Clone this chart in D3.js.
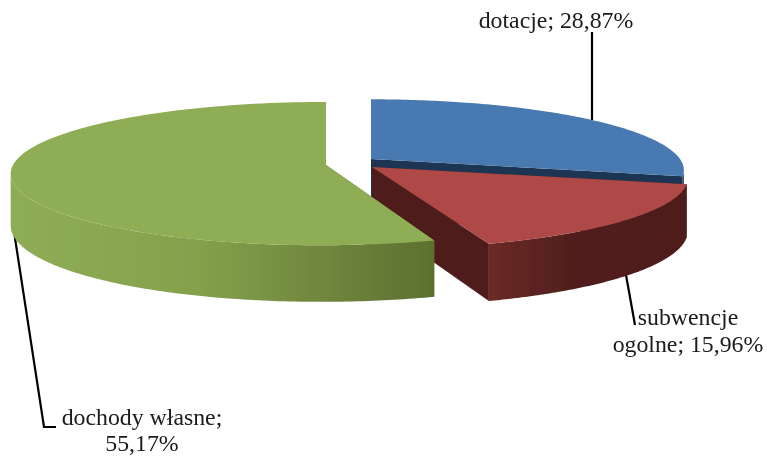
<!DOCTYPE html>
<html><head><meta charset="utf-8">
<script src="https://cdn.jsdelivr.net/npm/d3@7"></script>
<style>html,body{margin:0;padding:0;background:#fff}svg{display:block}text{font-family:"Liberation Serif",serif;font-size:23.8px;fill:#1a1a1a}</style>
</head><body><svg id="c" width="767" height="456"></svg>
<script>
const categories=["dotacje","subwencje ogolne","dochody własne"];
const values=[28.87,15.96,55.17];
const labelLines=[["dotacje; 28,87%"],["subwencje","ogolne; 15,96%"],["dochody własne;","55,17%"]];
const topColors=["#4a79b1","#ae4a46","#8fad55"];
const cutColors=["#1f3552","#4f1e1c","#5c702f"];
const wallStops=[[[0,"#1f3552"],[1,"#1f3552"]],[[0,"#6b2a27"],[.4,"#521f1d"],[1,"#4f1e1c"]],[[0,"#8fad55"],[.45,"#84a04c"],[1,"#5c702f"]]];
const layout=[
 {cx:371,cy:159,F:309,G:69,p:.156,lean:0,d:52},
 {cx:372,cy:167,F:312,G:69,p:.156,lean:0,d:52},
 {cx:326,cy:165,F:313,G:70.6,p:.12,lean:5,d:51}
];
const anchors=[{x:556,y:28,a:"middle"},{x:688,y:325,a:"middle"},{x:142,y:425,a:"middle"}];
const lineGaps=[0,27,26];
const leaders=[[[592,32],[592,120]],[[626,275],[635,325]],[[13,225],[44,427],[56,427]]];

const svg=d3.select("#c");
const defs=svg.append("defs");
defs.append("filter").attr("id","soft").attr("x","-5%").attr("y","-5%").attr("width","110%").attr("height","110%")
  .append("feGaussianBlur").attr("stdDeviation",.45);
const pie=d3.pie().sort(null).value(d=>d);
const arcs=pie(values);
function proj(a,t,down){
  const X=Math.sin(t),Z=-Math.cos(t),w=1-a.p*Z;
  const x=a.cx+a.F*X/w-a.lean*Z*Math.max(Z,0);
  const y=a.cy+a.G*Z/w+(down?a.d+5.6*Z:0);
  return [x,y];
}
const line=d3.line();
const sample=(s,e)=>d3.range(0,121).map(i=>s+(e-s)*i/120);
const g=svg.append("g").attr("filter","url(#soft)");
leaders.forEach(l=>g.append("path").attr("d",line(l)).attr("fill","none").attr("stroke","#000").attr("stroke-width",2.2));
arcs.forEach((arc,i)=>{
  const a=layout[i],s=arc.startAngle,e=arc.endAngle;
  const apexT=[a.cx,a.cy],apexB=[a.cx,a.cy+a.d];
  const gr=g.append("g");
  const right=Math.acos(-a.p),left=2*Math.PI-right;
  const wS=Math.max(s,right),wE=Math.min(e,left);
  gr.append("path").attr("d",line([apexT,proj(a,s,false),proj(a,s,true),apexB])+"Z").attr("fill",cutColors[i]);
  gr.append("path").attr("d",line([apexT,proj(a,e,false),proj(a,e,true),apexB])+"Z").attr("fill",cutColors[i]);
  if(wE>wS){
    const ts=sample(wS,wE);
    const topPts=ts.map(t=>proj(a,t,false)),botPts=ts.map(t=>proj(a,t,true));
    const xs=topPts.map(d=>d[0]);
    const id="w"+i;
    const lg=defs.append("linearGradient").attr("id",id).attr("gradientUnits","userSpaceOnUse")
      .attr("x1",d3.min(xs)).attr("x2",d3.max(xs)).attr("y1",0).attr("y2",0);
    wallStops[i].forEach(o=>lg.append("stop").attr("offset",o[0]).attr("stop-color",o[1]));
    gr.append("path").attr("d",line(topPts.concat(botPts.reverse()))+"Z").attr("fill","url(#"+id+")");
  }
  const rim=sample(s,e).map(t=>proj(a,t,false));
  gr.append("path").attr("d",line([apexT].concat(rim))+"Z").attr("fill",topColors[i]);
});
const tg=svg.append("g").attr("filter","url(#soft)");
anchors.forEach((p,i)=>{
  const t=tg.append("text").attr("x",p.x).attr("y",p.y).attr("text-anchor",p.a);
  labelLines[i].forEach((s,j)=>t.append("tspan").attr("x",p.x).attr("dy",j?lineGaps[i]:0).text(s));
});
</script></body></html>
